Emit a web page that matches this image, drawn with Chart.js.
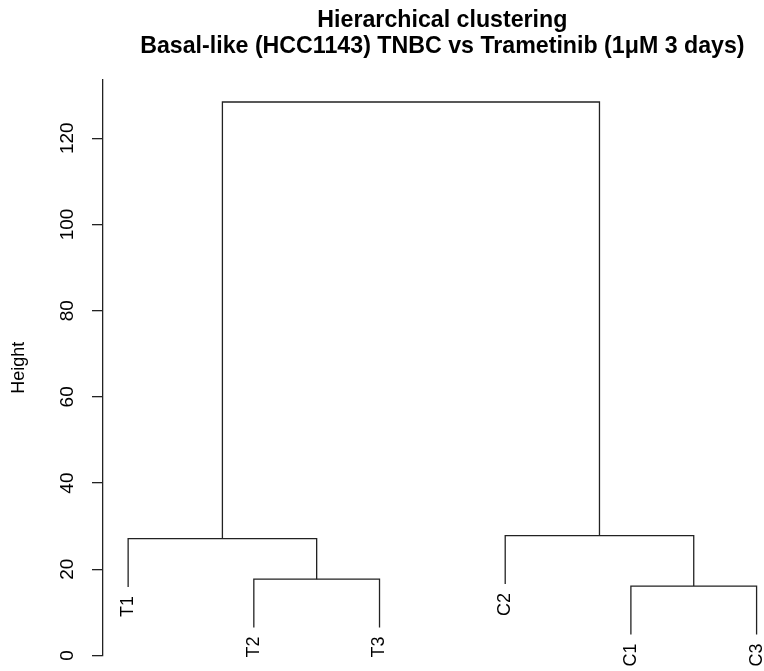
<!DOCTYPE html>
<html>
<head>
<meta charset="utf-8">
<script src="https://cdn.jsdelivr.net/npm/chart.js@4.4.0/dist/chart.umd.min.js"></script>
<style>
html, body { margin: 0; padding: 0; background: #fff; overflow: hidden; }
#wrap { width: 764px; height: 671px; }
</style>
</head>
<body>
<div id="wrap"><canvas id="dendro"></canvas></div>
<script>
// leaves, in the order they are plotted
var leafLabels = ['T1', 'T2', 'T3', 'C2', 'C1', 'C3'];
// merge table like hclust: negative = leaf number, positive = earlier merge row
var mergeLeft = [-2, -5, -1, -4, 3];
var mergeRight = [-3, -6, 1, 2, 4];
var mergeHeight = [17.7, 16.1, 27.1, 27.8, 128.4];
var hang = 11.2;
var yTicks = [0, 20, 40, 60, 80, 100, 120];
var titleLines = ['Hierarchical clustering', 'Basal-like (HCC1143) TNBC vs Trametinib (1μM 3 days)'];

var FONT = '"Liberation Sans", Arial, sans-serif';
var LINE = '#222';

// build the U shaped segments
var nodeX = [], nodeY = [], leafEnd = [];
function childPos(c, h) {
    if (c < 0) {
        leafEnd[-c - 1] = h - hang;
        return { x: -c, y: h - hang };
    }
    return { x: nodeX[c - 1], y: nodeY[c - 1] };
}
var datasets = [];
for (var i = 0; i < mergeHeight.length; i++) {
    var h = mergeHeight[i];
    var a = childPos(mergeLeft[i], h);
    var b = childPos(mergeRight[i], h);
    nodeX.push((a.x + b.x) / 2);
    nodeY.push(h);
    datasets.push({
        data: [{ x: a.x, y: a.y }, { x: a.x, y: h }, { x: b.x, y: h }, { x: b.x, y: b.y }],
        borderColor: LINE,
        borderWidth: 1.3,
        pointRadius: 0,
        fill: false,
        tension: 0
    });
}

// leaf names under the branches (rotated) + title centred over the leaves
var dendroTextPlugin = {
    id: 'dendroText',
    afterDraw: function (chart) {
        var ctx = chart.ctx, xs = chart.scales.x, ys = chart.scales.y;
        ctx.save();
        ctx.font = '18px ' + FONT;
        ctx.fillStyle = '#000';
        ctx.textAlign = 'right';
        ctx.textBaseline = 'middle';
        for (var i = 0; i < leafLabels.length; i++) {
            ctx.save();
            ctx.translate(xs.getPixelForValue(i + 1), ys.getPixelForValue(leafEnd[i]) + 9);
            ctx.rotate(-Math.PI / 2);
            ctx.fillText(leafLabels[i], 0, 0);
            ctx.restore();
        }
        // title, like R: centred on the middle of the leaf range
        var cx = xs.getPixelForValue((1 + leafLabels.length) / 2);
        ctx.font = 'bold 23.2px ' + FONT;
        ctx.textAlign = 'center';
        ctx.textBaseline = 'alphabetic';
        for (var j = 0; j < titleLines.length; j++) {
            ctx.fillText(titleLines[j], cx, 26.7 + j * 26.7);
        }
        ctx.restore();
    }
};

var ctxD = document.getElementById('dendro').getContext('2d');
var dendro = new Chart(ctxD, {
    type: 'line',
    data: { datasets: datasets },
    options: {
        responsive: true,
        maintainAspectRatio: false,
        animation: false,
        layout: { padding: { left: 0, right: 0, top: 80, bottom: 15.5 } },
        plugins: {
            legend: { display: false },
            tooltip: { enabled: false },
            title: { display: false }
        },
        scales: {
            x: {
                type: 'linear',
                display: false,
                min: 0.8,
                max: 6.059
            },
            y: {
                type: 'linear',
                min: 0,
                max: 133.5,
                afterBuildTicks: function (scale) {
                    scale.ticks = yTicks.map(function (v) { return { value: v }; });
                },
                afterFit: function (scale) {
                    scale.width = 103;
                    scale.paddingTop = 0;
                    scale.paddingBottom = 0;
                },
                border: { display: true, color: LINE, width: 1.3 },
                grid: { drawOnChartArea: false, drawTicks: true, tickLength: 11, color: LINE, lineWidth: 1.3 },
                ticks: {
                    autoSkip: false,
                    minRotation: 90,
                    maxRotation: 90,
                    crossAlign: 'center',
                    padding: 8.6,
                    color: '#000',
                    font: { family: FONT, size: 19 }
                },
                title: {
                    display: true,
                    text: 'Height',
                    color: '#000',
                    font: { family: FONT, size: 18 },
                    padding: { top: 8, bottom: 0 }
                }
            }
        }
    },
    plugins: [dendroTextPlugin]
});
</script>
</body>
</html>
